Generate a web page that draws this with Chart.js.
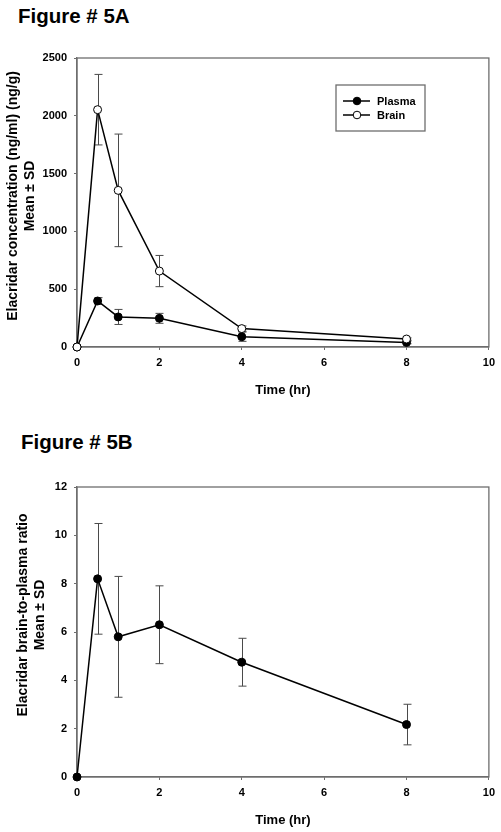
<!DOCTYPE html>
<html>
<head>
<meta charset="utf-8">
<script src="https://cdn.jsdelivr.net/npm/chart.js"></script>
<style>
  body { margin: 0; background: #fff; width: 501px; height: 832px; position: relative; overflow: hidden; }
  .fig { position: absolute; font: bold 20.5px "Liberation Sans", Arial, sans-serif; line-height: 24px; color: #000; }
  .box { position: absolute; left: 0; width: 501px; }
</style>
</head>
<body>
<div class="fig" style="left:18px; top:4px;">Figure # 5A</div>
<div class="box" style="top:0; height:400px;"><canvas id="chartA"></canvas></div>
<div class="fig" style="left:21px; top:430px;">Figure # 5B</div>
<div class="box" style="top:400px; height:432px;"><canvas id="chartB"></canvas></div>
<script>
// time points (hr)
const timePoints = [0, 0.5, 1, 2, 4, 8];

// Figure 5A: concentrations, mean and SD
const plasmaMean = [0, 398, 260, 248, 89, 40];
const plasmaSd = [0, 29, 65, 43, 40, 12];
const brainMean = [0, 2053, 1355, 657, 159, 69];
const brainSd = [0, 305, 487, 135, 23, 10];

// Figure 5B: brain-to-plasma ratio
const ratioMean = [0, 8.2, 5.8, 6.3, 4.75, 2.17];
const ratioSd = [0, 2.29, 2.5, 1.61, 0.99, 0.84];

const xTicks = [0, 2, 4, 6, 8, 10];
const yTicksA = [0, 500, 1000, 1500, 2000, 2500];
const yTicksB = [0, 2, 4, 6, 8, 10, 12];

const FONT = '"Liberation Sans", Arial, sans-serif';
const frameColor = '#6e6e6e';

function pts(ys) {
  return timePoints.map((t, i) => ({ x: t, y: ys[i] }));
}

// error bars, drawn under the markers
const errorBars = {
  id: 'errorBars',
  beforeDatasetsDraw(chart) {
    const ctx = chart.ctx;
    const xs = chart.scales.x, ys = chart.scales.y;
    ctx.save();
    ctx.strokeStyle = '#4a4a4a';
    ctx.lineWidth = 1;
    chart.data.datasets.forEach(ds => {
      if (!ds.sd) return;
      ds.data.forEach((p, i) => {
        const sd = ds.sd[i];
        if (!sd) return;
        const px = Math.round(xs.getPixelForValue(p.x)) + 0.5;
        const top = ys.getPixelForValue(p.y + sd);
        const bot = ys.getPixelForValue(p.y - sd);
        ctx.beginPath();
        ctx.moveTo(px, top); ctx.lineTo(px, bot);
        ctx.moveTo(px - 4, top); ctx.lineTo(px + 4, top);
        ctx.moveTo(px - 4, bot); ctx.lineTo(px + 4, bot);
        ctx.stroke();
      });
    });
    ctx.restore();
  }
};

// grey frame around the plot + rotated two-line y title + boxed legend
const extras = {
  id: 'extras',
  beforeDatasetsDraw(chart) {
    const { ctx, chartArea: a } = chart;
    ctx.save();
    ctx.strokeStyle = frameColor;
    ctx.lineWidth = 1.3;
    ctx.strokeRect(a.left, a.top, a.right - a.left, a.bottom - a.top);
    ctx.restore();
  },
  afterDraw(chart, args, opts) {
    const { ctx, chartArea: a } = chart;
    ctx.save();
    // y title
    if (opts.yTitle) {
      const cy = (a.top + a.bottom) / 2 + opts.yTitle.dy;
      ctx.font = 'bold 14px ' + FONT;
      ctx.fillStyle = '#000';
      ctx.textAlign = 'center';
      ctx.textBaseline = 'middle';
      opts.yTitle.lines.forEach((line, i) => {
        ctx.save();
        ctx.translate(opts.yTitle.x[i], cy);
        ctx.rotate(-Math.PI / 2);
        ctx.fillText(line, 0, 0);
        ctx.restore();
      });
    }
    // legend
    if (opts.legend) {
      const L = opts.legend;
      const bx = a.left + L.dx, by = a.top + L.dy;
      ctx.strokeStyle = frameColor;
      ctx.lineWidth = 1.3;
      ctx.strokeRect(bx, by, L.w, L.h);
      ctx.font = 'bold 11px ' + FONT;
      ctx.textAlign = 'left';
      ctx.textBaseline = 'middle';
      const order = L.order;
      order.forEach((di, row) => {
        const ds = chart.data.datasets[di];
        const y = by + 16 + row * 14;
        ctx.strokeStyle = '#000';
        ctx.lineWidth = 1.5;
        ctx.beginPath();
        ctx.moveTo(bx + 7, y); ctx.lineTo(bx + 34, y);
        ctx.stroke();
        ctx.beginPath();
        ctx.arc(bx + 21, y, 3.8, 0, Math.PI * 2);
        ctx.fillStyle = ds.pointBackgroundColor;
        ctx.fill();
        ctx.lineWidth = 1;
        ctx.stroke();
        ctx.fillStyle = '#000';
        ctx.fillText(ds.label, bx + 41, y + 0.5);
      });
    }
    ctx.restore();
  }
};

function lineSet(label, ys, sd, fill, order) {
  return {
    label: label,
    data: pts(ys),
    sd: sd,
    borderColor: '#000',
    borderWidth: 1.5,
    pointRadius: 4,
    pointHoverRadius: 4,
    pointBorderWidth: 1,
    pointBorderColor: '#000',
    pointBackgroundColor: fill,
    tension: 0,
    clip: false,
    order: order
  };
}

function makeScales(yMin, yMax, yTicks) {
  const tickFont = { family: FONT, size: 11, weight: 'bold' };
  return {
    x: {
      type: 'linear', min: 0, max: 10,
      afterBuildTicks: s => { s.ticks = xTicks.map(v => ({ value: v })); },
      ticks: { color: '#000', font: tickFont, padding: 6, maxRotation: 0, callback: v => String(v) },
      grid: { drawOnChartArea: false, drawTicks: true, tickLength: 3, color: frameColor },
      border: { color: frameColor, width: 1.3 },
      title: { display: true, text: 'Time (hr)', color: '#000', font: { family: FONT, size: 13, weight: 'bold' }, padding: { top: 4, bottom: 2 } },
      afterFit: s => { s.height = 53; }
    },
    y: {
      type: 'linear', min: yMin, max: yMax,
      afterBuildTicks: s => { s.ticks = yTicks.map(v => ({ value: v })); },
      ticks: { color: '#000', font: tickFont, padding: 7, callback: v => String(v) },
      grid: { drawOnChartArea: false, drawTicks: true, tickLength: 3, color: frameColor },
      border: { color: frameColor, width: 1.3 },
      afterFit: s => { s.width = 77; }
    }
  };
}

function baseOptions(scales, pad, extraOpts) {
  return {
    responsive: true,
    maintainAspectRatio: false,
    animation: false,
    events: [],
    layout: { padding: pad },
    scales: scales,
    plugins: {
      legend: { display: false },
      tooltip: { enabled: false },
      extras: extraOpts
    }
  };
}

new Chart(document.getElementById('chartA'), {
  type: 'line',
  data: {
    datasets: [
      lineSet('Brain', brainMean, brainSd, '#fff', 0),
      lineSet('Plasma', plasmaMean, plasmaSd, '#000', 1)
    ]
  },
  options: baseOptions(
    makeScales(0, 2500, yTicksA),
    { top: 58, right: 10, bottom: 0, left: 0 },
    {
      yTitle: { lines: ['Elacridar concentration (ng/ml) (ng/g)', 'Mean \u00b1 SD'], x: [13, 30], dy: -6.5 },
      legend: { dx: 259, dy: 27, w: 89, h: 46, order: [1, 0] }
    }
  ),
  plugins: [errorBars, extras]
});

new Chart(document.getElementById('chartB'), {
  type: 'line',
  data: {
    datasets: [
      lineSet('Ratio', ratioMean, ratioSd, '#000', 0)
    ]
  },
  options: baseOptions(
    makeScales(0, 12, yTicksB),
    { top: 87, right: 10, bottom: 2, left: 0 },
    {
      yTitle: { lines: ['Elacridar brain-to-plasma ratio', 'Mean \u00b1 SD'], x: [23, 40], dy: -17 }
    }
  ),
  plugins: [errorBars, extras]
});
</script>
</body>
</html>
